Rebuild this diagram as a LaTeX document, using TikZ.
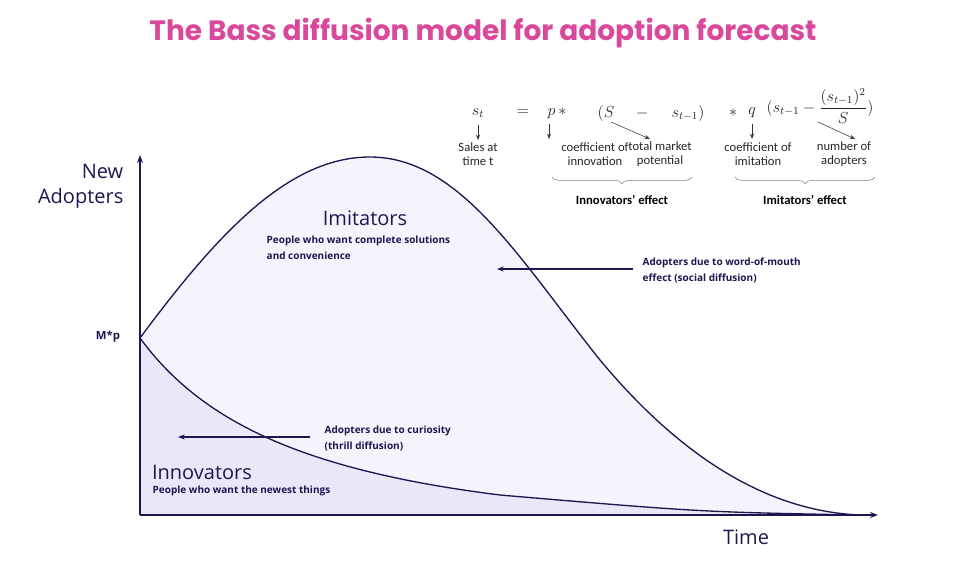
\documentclass[tikz,border=0pt]{standalone}
\usepackage{fontspec}
\setmainfont{Open Sans}
\newfontfamily\titlefont{Poppins}
\newfontfamily\labfont{Carlito}
\usetikzlibrary{arrows.meta,decorations.pathreplacing}
\definecolor{navy}{HTML}{1E1650}
\definecolor{pinkt}{HTML}{D9489A}
\definecolor{fillA}{HTML}{F5F4FC}
\definecolor{fillB}{HTML}{E9E8F8}
\begin{document}
\begin{tikzpicture}[x=0.75pt,y=-0.75pt,
  lab/.style={font=\labfont\fontsize{9.5}{11}\selectfont,align=center,text=black!85},
  eq/.style={font=\fontsize{11.5}{13}\selectfont,text=black!85},
  small/.style={->,>={Stealth[length=4pt]},black!80,thin},
  ann/.style={font=\bfseries\fontsize{7.5}{12}\selectfont,text=navy,align=left,anchor=west},
  big/.style={font=\fontsize{15}{19}\selectfont,text=navy},
  axis/.style={navy,line width=1pt,-{Stealth[length=6pt]}}]
\useasboundingbox (0,0) rectangle (966,565);
\node[font=\titlefont\bfseries\fontsize{21}{24}\selectfont,text=pinkt] (title) at (483,33) {The Bass diffusion model for adoption forecast};
% areas
\fill[fillA] (140,338) .. controls (220,230) and (290,157) .. (370,157) .. controls (460,157) and (520,260) .. (600,360) .. controls (700,480) and (790,512) .. (860,515) -- (140,515) -- cycle;
\fill[fillB] (140,338) .. controls (200,420) and (300,470) .. (500,495) .. controls (700,512) .. (860,515) -- (140,515) -- cycle;
\draw[navy,line width=1pt] (140,338) .. controls (220,230) and (290,157) .. (370,157) .. controls (460,157) and (520,260) .. (600,360) .. controls (700,480) and (790,512) .. (860,515);
\draw[navy,line width=1pt] (140,338) .. controls (200,420) and (300,470) .. (500,495) .. controls (700,512) .. (860,515);
% axes
\coordinate (o) at (140,515);
\coordinate (ytop) at (140,155);
\coordinate (xend) at (878,515);
\draw[axis] (o) -- (ytop);
\draw[axis] (o) -- (xend);
\node[big,align=right,anchor=east] (ny) at (128,186) {New\\Adopters};
\node[font=\bfseries\fontsize{8.5}{10}\selectfont,text=navy] (mp) at (108,337) {M*p};
\node[big] (time) at (746,537) {Time};
\node[big] (imit) at (365,218) {Imitators};
\node[ann] (imitd) at (262,248) {People who want complete solutions\\and convenience};
\node[big] (innov) at (202,472) {Innovators};
\node[ann] (innovd) at (148,491) {People who want the newest things};
\node[ann] (cur) at (320,438) {Adopters due to curiosity\\(thrill diffusion)};
\node[ann] (wom) at (638,270) {Adopters due to word-of-mouth\\effect (social diffusion)};
\coordinate (curT) at (178,437);
\coordinate (womT) at (497,269);
\draw[navy,thick,-{Stealth[length=5pt]}] (310,437) -- (curT);
\draw[navy,thick,-{Stealth[length=5pt]}] (633,269) -- (womT);
% formula
\node[eq] (st) at (478,113) {$s_t$};
\node[eq] (eqs) at (523,113) {$=$};
\node[eq] (p) at (557,113) {$p\,*$};
\node[eq] (S) at (606,113) {$(S$};
\node[eq] (mi) at (642,113) {$-$};
\node[eq] (st1) at (688,113) {$s_{t-1})$};
\node[eq] (ast) at (733,113) {$*$};
\node[eq] (q) at (752,113) {$q$};
\node[eq,anchor=west] (fr) at (762,106) {$(s_{t-1}-\displaystyle\frac{(s_{t-1})^2}{S})$};
\node[lab] (l1) at (478,154) {Sales at\\time t};
\node[lab] (l2) at (595,154) {coefficient of\\innovation};
\node[lab] (l3) at (660,154) {total market\\potential};
\node[lab] (l4) at (758,154) {coefficient of\\imitation};
\node[lab] (l5) at (844,154) {number of\\adopters};
\draw[small] (478,125) -- (478,140);
\draw[small] (549,124) -- (549,139);
\draw[small] (611,122) -- (650,139);
\draw[small] (752,124) -- (752,139);
\draw[small] (818,122) -- (855,139);
\draw[black!50,decorate,decoration={brace,mirror,amplitude=5pt}] (552,177) -- (692,177);
\draw[black!50,decorate,decoration={brace,mirror,amplitude=5pt}] (735,177) -- (875,177);
\node[font=\labfont\bfseries\fontsize{9.5}{11}\selectfont] (ie) at (622,200) {Innovators’ effect};
\node[font=\labfont\bfseries\fontsize{9.5}{11}\selectfont] (me) at (805,200) {Imitators’ effect};
\end{tikzpicture}
\end{document}
